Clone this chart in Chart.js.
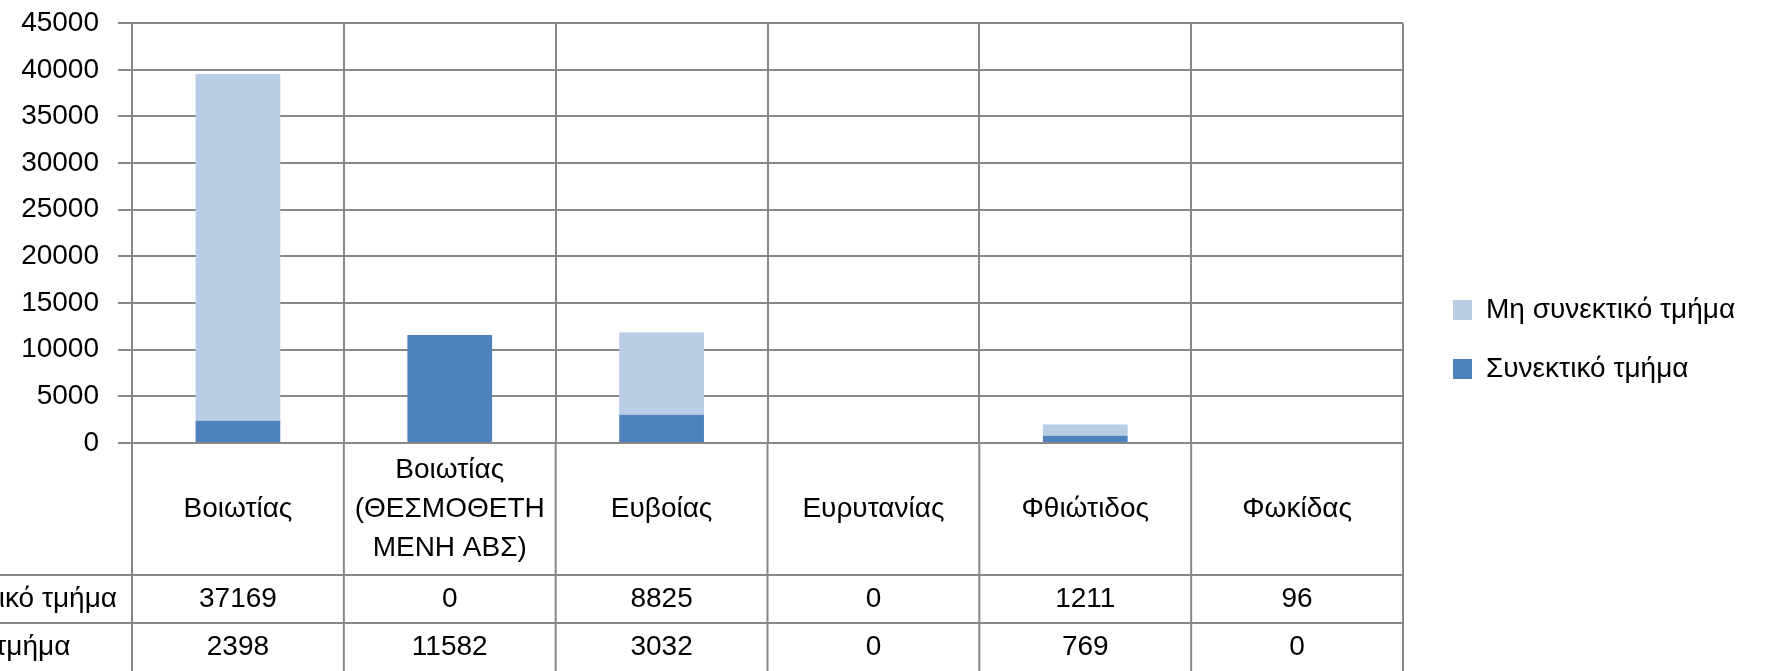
<!DOCTYPE html>
<html><head><meta charset="utf-8">
<script src="https://cdn.jsdelivr.net/npm/chart.js@4.4.1/dist/chart.umd.min.js"></script>
<style>html,body{margin:0;padding:0;background:#fff;overflow:hidden}canvas{display:block}</style>
</head><body>
<canvas id="c" width="1776" height="671"></canvas>
<script>
// ---- data ----
const categories = ['Βοιωτίας', 'Βοιωτίας (ΘΕΣΜΟΘΕΤΗΜΕΝΗ ΑΒΣ)', 'Ευβοίας', 'Ευρυτανίας', 'Φθιώτιδος', 'Φωκίδας'];
const categoryLines = [['Βοιωτίας'], ['Βοιωτίας', '(ΘΕΣΜΟΘΕΤΗ', 'ΜΕΝΗ ΑΒΣ)'], ['Ευβοίας'], ['Ευρυτανίας'], ['Φθιώτιδος'], ['Φωκίδας']];
const seriesNames = ['Μη συνεκτικό τμήμα', 'Συνεκτικό τμήμα'];
const nonCohesive = [37169, 0, 8825, 0, 1211, 96];
const cohesive = [2398, 11582, 3032, 0, 769, 0];
const yTicks = [0, 5000, 10000, 15000, 20000, 25000, 30000, 35000, 40000, 45000];

// ---- style ----
const FONT = '"Liberation Sans", Arial, sans-serif';
const FS = 28;
const GRID = '#888888';
const LIGHT = '#B9CDE5';
const DARK = '#4F81BD';
const W = 1776, H = 671;
const PLOT_LEFT = 132, PLOT_RIGHT = 1402, PAD_TOP = 11, AXIS_H = 228;
const CAT_ROW_H = 132, DATA_ROW_H = 48;
const LEG_PAD = 31, LEG_BOX_W = 19, LEG_BOX_H = 20, LEG_BOX_X = 1453, LEG_SHIFT_Y = 4;

Chart.defaults.font.family = FONT;
Chart.defaults.font.size = FS;
Chart.defaults.color = '#000';

const mctx = document.createElement('canvas').getContext('2d');
mctx.font = FS + 'px ' + FONT;
const legendTextW = Math.max(...seriesNames.map(s => mctx.measureText(s).width));
const legendW = 2 * LEG_PAD + LEG_BOX_W + FS / 2 + legendTextW;
const padRight = (W - PLOT_RIGHT) - legendW + 20;

const tableRows = [
  { name: seriesNames[0], values: nonCohesive },
  { name: seriesNames[1], values: cohesive }
];

const tablePlugin = {
  id: 'dataTable',
  afterLayout(chart) {
    const lg = chart.legend;
    if (!lg) return;
    const w = lg.width;
    lg.left = LEG_BOX_X - LEG_PAD;
    lg.right = lg.left + w;
    lg.top = LEG_SHIFT_Y;
    lg.bottom = chart.height + LEG_SHIFT_Y;
    lg.height = chart.height;
  },
  afterDraw(chart) {
    const ctx = chart.ctx;
    const xs = chart.scales.x;
    const area = chart.chartArea;
    const n = categories.length;
    const cw = (area.right - area.left) / n;
    ctx.save();
    ctx.strokeStyle = GRID;
    ctx.lineWidth = 2;
    for (let i = 0; i <= n; i++) {
      const x = area.left + i * cw;
      ctx.beginPath();
      ctx.moveTo(x, area.bottom);
      ctx.lineTo(x, chart.height);
      ctx.stroke();
    }
    const y1 = xs.top + CAT_ROW_H;
    const y2 = y1 + DATA_ROW_H;
    [y1, y2].forEach(y => {
      ctx.beginPath();
      ctx.moveTo(0, y);
      ctx.lineTo(area.right, y);
      ctx.stroke();
    });
    ctx.fillStyle = '#000';
    ctx.font = FS + 'px ' + FONT;
    ctx.textBaseline = 'middle';
    const headerEnd = 117;
    const headerStart = headerEnd - ctx.measureText(tableRows[0].name).width;
    tableRows.forEach((row, r) => {
      const yc = y1 + r * DATA_ROW_H + DATA_ROW_H / 2;
      ctx.textAlign = 'left';
      ctx.fillText(row.name, headerStart, yc);
      ctx.textAlign = 'center';
      row.values.forEach((v, i) => {
        ctx.fillText(String(v), xs.getPixelForValue(i), yc);
      });
    });
    ctx.restore();
  }
};

new Chart(document.getElementById('c'), {
  type: 'bar',
  data: {
    labels: categories,
    datasets: [
      { label: seriesNames[1], data: cohesive, backgroundColor: DARK, borderWidth: 0, barPercentage: 0.4, categoryPercentage: 1 },
      { label: seriesNames[0], data: nonCohesive, backgroundColor: LIGHT, borderWidth: 0, barPercentage: 0.4, categoryPercentage: 1 }
    ]
  },
  options: {
    responsive: false,
    animation: false,
    devicePixelRatio: 1,
    layout: { padding: { top: PAD_TOP, right: padRight, bottom: 0, left: 0 } },
    plugins: {
      legend: {
        position: 'right',
        reverse: true,
        labels: { boxWidth: LEG_BOX_W, boxHeight: LEG_BOX_H, padding: LEG_PAD, color: '#000', font: { size: FS } }
      },
      tooltip: { enabled: false }
    },
    scales: {
      x: {
        stacked: true,
        offset: true,
        grid: { display: true, offset: true, color: GRID, lineWidth: 2, drawTicks: false },
        border: { display: true, color: GRID, width: 2 },
        ticks: {
          autoSkip: false, maxRotation: 0, minRotation: 0, padding: 8,
          font: { size: FS, lineHeight: 1.39 },
          callback: (v, i) => {
            const l = categoryLines[i];
            return l.length === 1 ? ['', l[0], ''] : l;
          }
        },
        afterFit(scale) { scale.height = AXIS_H; }
      },
      y: {
        stacked: true,
        min: yTicks[0],
        max: yTicks[yTicks.length - 1],
        grid: { color: GRID, lineWidth: 2, drawTicks: true, tickLength: 14, tickColor: GRID },
        border: { display: true, color: GRID, width: 2 },
        ticks: {
          stepSize: yTicks[1] - yTicks[0],
          padding: 19,
          font: { size: FS, lineHeight: 0.3 },
          callback: (v) => String(v)
        },
        afterFit(scale) { scale.width = PLOT_LEFT; }
      }
    }
  },
  plugins: [tablePlugin]
});
</script>
</body></html>
